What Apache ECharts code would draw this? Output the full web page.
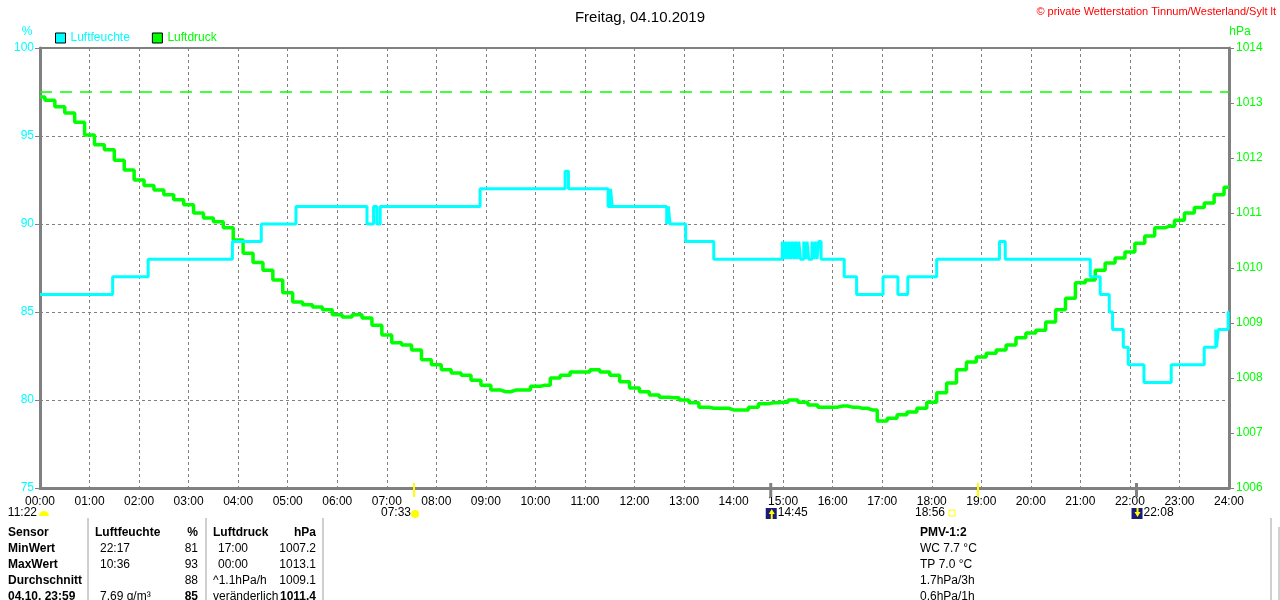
<!DOCTYPE html>
<html>
<head>
<meta charset="utf-8">
<script src="https://cdn.jsdelivr.net/npm/echarts@6/dist/echarts.min.js"></script>
<style>
  html, body { margin: 0; padding: 0; background: #fff; }
  #chart { width: 1280px; height: 600px; }
</style>
</head>
<body>
<div id="chart"></div>
<script>
// Luftfeuchte: Zeitpunkte, an denen sich der Wert ändert (Stufenlinie)
const humidityTimes = [
  "00:00", "01:28", "02:11", "03:53", "04:28", "05:10", "06:36", "06:44", "06:48", "06:52",
  "08:53", "10:36", "10:40", "11:28", "11:31", "11:33", "12:39", "12:41", "12:43", "13:02",
  "13:36", "14:59", "15:01", "15:03", "15:05", "15:07", "15:09", "15:11", "15:13", "15:15",
  "15:17", "15:19", "15:21", "15:25", "15:27", "15:29", "15:31", "15:35", "15:37", "15:39",
  "15:41", "15:43", "15:46", "16:14", "16:29", "17:01", "17:19", "17:31", "18:06", "19:22",
  "19:29", "21:12", "21:24", "21:35", "21:39", "21:52", "21:58", "22:17", "22:50", "23:30",
  "23:44", "23:45", "23:47", "23:59", "24:00"
];
const humidityValues = [
  86, 87, 88, 89, 90, 91, 90, 91, 90, 91,
  92, 93, 92, 91, 92, 91, 90, 91, 90, 89,
  88, 89, 88, 89, 88, 89, 88, 89, 88, 89,
  88, 89, 88, 89, 88, 89, 88, 89, 88, 89,
  88, 89, 88, 87, 86, 87, 86, 87, 88, 89,
  88, 87, 86, 85, 84, 83, 82, 81, 82, 83,
  84, 83, 84, 85, 85
];

// Luftdruck alle 12 Minuten (hPa)
const pressureStep = 12;
const pressureValues = [
  1013.11, 1013.05, 1012.93, 1012.82, 1012.65, 1012.42, 1012.24, 1012.15, 1011.96, 1011.78,
  1011.60, 1011.50, 1011.42, 1011.33, 1011.24, 1011.15, 1011.00, 1010.91, 1010.84, 1010.73,
  1010.51, 1010.27, 1010.10, 1009.96, 1009.78, 1009.55, 1009.38, 1009.33, 1009.29, 1009.24,
  1009.15, 1009.11, 1009.15, 1009.09, 1008.96, 1008.78, 1008.64, 1008.60, 1008.51, 1008.33,
  1008.24, 1008.15, 1008.09, 1008.05, 1007.96, 1007.87, 1007.78, 1007.75, 1007.78, 1007.78,
  1007.85, 1007.87, 1008.00, 1008.05, 1008.11,
  1008.11, 1008.15, 1008.11, 1008.05, 1007.93, 1007.82, 1007.75, 1007.69, 1007.65, 1007.64,
  1007.60, 1007.55, 1007.47, 1007.45, 1007.45, 1007.42, 1007.42, 1007.47, 1007.53, 1007.55,
  1007.56, 1007.60, 1007.56, 1007.51, 1007.47, 1007.47, 1007.49, 1007.47, 1007.45, 1007.42,
  1007.22, 1007.27, 1007.33, 1007.38, 1007.45, 1007.56, 1007.73, 1007.91, 1008.15, 1008.29,
  1008.38, 1008.45, 1008.51, 1008.60, 1008.73, 1008.82, 1008.87, 1009.02, 1009.24, 1009.45,
  1009.73, 1009.78, 1009.96, 1010.09, 1010.18, 1010.29, 1010.45, 1010.58, 1010.73, 1010.76,
  1010.87, 1011.00, 1011.10, 1011.18, 1011.33,
  1011.47
];
const pressureRef = 1013.2;

// Sonne / Mond unter der Zeitachse
const sunEvents = [
  { time: "07:33", label: "07:33", kind: "sunrise" },
  { time: "14:45", label: "14:45", kind: "moonrise" },
  { time: "18:56", label: "18:56", kind: "sunset" },
  { time: "22:08", label: "22:08", kind: "moonset" }
];
const dayLength = "11:22";

// Tabelle unten
const tableLabels = ["Sensor", "MinWert", "MaxWert", "Durchschnitt", "04.10. 23:59"];
const humTimesCol = ["Luftfeuchte", "22:17", "10:36", "", "7.69 g/m³"];
const humValsCol = ["%", "81", "93", "88", "85"];
const presTimesCol = ["Luftdruck", "17:00", "00:00", "^1.1hPa/h", "veränderlich"];
const presValsCol = ["hPa", "1007.2", "1013.1", "1009.1", "1011.4"];
const pmvCol = ["PMV-1:2", "WC 7.7 °C", "TP 7.0 °C", "1.7hPa/3h", "0.6hPa/1h"];

const CYAN = "#00ffff", GREEN = "#00ff00", GRID = "#808080";
const FONT = "Liberation Sans, Arial, sans-serif";

function toMin(t) {
  const p = t.split(":");
  return +p[0] * 60 + +p[1];
}
function pad(n) { return (n < 10 ? "0" : "") + n; }

const humidityData = humidityTimes.map((t, i) => [toMin(t), humidityValues[i]]);
const pressureData = pressureValues.map((v, i) => [i * pressureStep, v]);

const chart = echarts.init(document.getElementById("chart"));
chart.setOption({
  animation: false,
  textStyle: { fontFamily: FONT },
  title: {
    text: "Freitag, 04.10.2019",
    left: "center",
    top: 5,
    textStyle: { fontSize: 15, fontWeight: "normal", color: "#000", fontFamily: FONT }
  },
  legend: {
    left: 50,
    top: 27,
    icon: "rect",
    itemWidth: 10,
    itemHeight: 10,
    itemGap: 22,
    itemStyle: { borderColor: "#000", borderWidth: 1 },
    data: [
      { name: "Luftfeuchte", textStyle: { color: CYAN } },
      { name: "Luftdruck", textStyle: { color: GREEN } }
    ],
    textStyle: { fontSize: 12, fontFamily: FONT }
  },
  grid: {
    left: 40, right: 51, top: 48, bottom: 112,
    show: true, borderColor: GRID, borderWidth: 2
  },
  xAxis: {
    type: "value",
    min: 0, max: 1440, interval: 60,
    axisLine: { lineStyle: { color: GRID, width: 3 } },
    axisTick: { show: false },
    axisLabel: {
      color: "#000", fontSize: 12, margin: 8, fontFamily: FONT,
      formatter: v => pad(v / 60) + ":00"
    },
    splitLine: { lineStyle: { color: GRID, type: [3, 3], width: 1 } }
  },
  yAxis: [
    {
      type: "value",
      min: 75, max: 100, interval: 5,
      axisLine: { show: true, lineStyle: { color: GRID, width: 3 } },
      axisTick: { show: true, length: 5, lineStyle: { color: GRID, width: 1 } },
      axisLabel: { color: CYAN, fontSize: 12, margin: 6, fontFamily: FONT },
      splitLine: { lineStyle: { color: GRID, type: [3, 3], width: 1 } }
    },
    {
      type: "value",
      position: "right",
      min: 1006, max: 1014, interval: 1,
      axisLine: { show: true, lineStyle: { color: GRID, width: 3 } },
      axisTick: { show: true, length: 5, lineStyle: { color: GRID, width: 1 } },
      axisLabel: { color: GREEN, fontSize: 12, margin: 7, fontFamily: FONT, formatter: v => String(v) },
      splitLine: { show: false }
    }
  ],
  series: [
    {
      name: "Luftfeuchte",
      type: "line",
      step: "end",
      data: humidityData,
      symbol: "none",
      color: CYAN,
      lineStyle: { color: CYAN, width: 3 },
      z: 3
    },
    {
      name: "Luftdruck",
      type: "line",
      yAxisIndex: 1,
      step: "middle",
      data: pressureData,
      symbol: "none",
      color: GREEN,
      lineStyle: { color: GREEN, width: 3.5 },
      z: 2,
      markLine: {
        silent: true,
        symbol: "none",
        label: { show: false },
        lineStyle: { color: GREEN, type: [12, 8], width: 1.5 },
        data: [{ yAxis: pressureRef }]
      }
    }
  ]
});

// Zusatzgrafik: Einheiten, Copyright, Sonne/Mond, Tabelle
const g = [];
const txt = (x, y, text, opts) => g.push({
  type: "text", x: x, y: y, silent: true,
  style: Object.assign({
    text: text, fill: "#000", font: "12px " + FONT,
    textAlign: "left", textVerticalAlign: "middle"
  }, opts || {})
});

txt(27, 32, "%", { fill: CYAN, textAlign: "center" });
txt(1240, 32, "hPa", { fill: GREEN, textAlign: "center" });
txt(1276, 12, "© private Wetterstation Tinnum/Westerland/Sylt lt", { fill: "#ff0000", textAlign: "right", font: "11px " + FONT });

// Tageslänge unter 00:00
txt(37, 513, dayLength, { textAlign: "right" });
g.push({ type: "sector", silent: true, shape: { cx: 44, cy: 516, r: 5, startAngle: Math.PI, endAngle: 2 * Math.PI }, style: { fill: "#ffff00" } });

sunEvents.forEach(ev => {
  const x = chart.convertToPixel({ xAxisIndex: 0 }, toMin(ev.time));
  const isSun = ev.kind === "sunrise" || ev.kind === "sunset";
  g.push({
    type: "line", silent: true,
    shape: { x1: x, y1: 483, x2: x, y2: 497 },
    style: { stroke: isSun ? "#ffff00" : GRID, lineWidth: isSun ? 2 : 3 },
    z: 10
  });
  if (ev.kind === "sunrise") {
    txt(x - 3, 513, ev.label, { textAlign: "right" });
    g.push({ type: "circle", silent: true, shape: { cx: x + 1, cy: 514, r: 4 }, style: { fill: "#ffff00" } });
  } else if (ev.kind === "sunset") {
    txt(x - 33, 513, ev.label, { textAlign: "right" });
    g.push({ type: "rect", silent: true, shape: { x: x - 29, y: 510, width: 6, height: 6 }, style: { fill: "none", stroke: "#ffff00", lineWidth: 1 } });
  } else {
    g.push({ type: "rect", silent: true, shape: { x: x - 5, y: 508, width: 11, height: 11 }, style: { fill: "#1a1a7a" } });
    g.push({
      type: "polygon", silent: true,
      shape: { points: ev.kind === "moonrise"
        ? [[x + 1, 509], [x + 4, 514], [x + 2, 514], [x + 2, 519], [x, 519], [x, 514], [x - 2, 514]]
        : [[x + 1, 517], [x + 4, 512], [x + 2, 512], [x + 2, 508], [x, 508], [x, 512], [x - 2, 512]] },
      style: { fill: "#ffff00" }
    });
    txt(x + 7, 513, ev.label);
  }
});

// Tabelle
const rowY = [533, 549, 565, 581, 597];
rowY.forEach((y, i) => {
  const bold = i === 0 || i === 4;
  const f = (b) => (b ? "bold " : "") + "12px " + FONT;
  txt(8, y, tableLabels[i], { font: "bold 12px " + FONT });
  txt(i === 0 ? 95 : 100, y, humTimesCol[i], { font: f(i === 0) });
  txt(198, y, humValsCol[i], { textAlign: "right", font: f(bold) });
  txt(i === 0 || i >= 3 ? 213 : 218, y, presTimesCol[i], { font: f(i === 0) });
  txt(316, y, presValsCol[i], { textAlign: "right", font: f(bold) });
  txt(920, y, pmvCol[i], { font: f(i === 0) });
});
[88, 206, 323].forEach(x => g.push({
  type: "line", silent: true, shape: { x1: x, y1: 518, x2: x, y2: 600 },
  style: { stroke: "#a0a0a0", lineWidth: 1 }
}));
g.push({ type: "line", silent: true, shape: { x1: 1271, y1: 518, x2: 1271, y2: 600 }, style: { stroke: "#a0a0a0", lineWidth: 1 } });
g.push({ type: "line", silent: true, shape: { x1: 1279, y1: 527, x2: 1279, y2: 600 }, style: { stroke: "#a0a0a0", lineWidth: 1 } });

chart.setOption({ graphic: g });
</script>
</body>
</html>
